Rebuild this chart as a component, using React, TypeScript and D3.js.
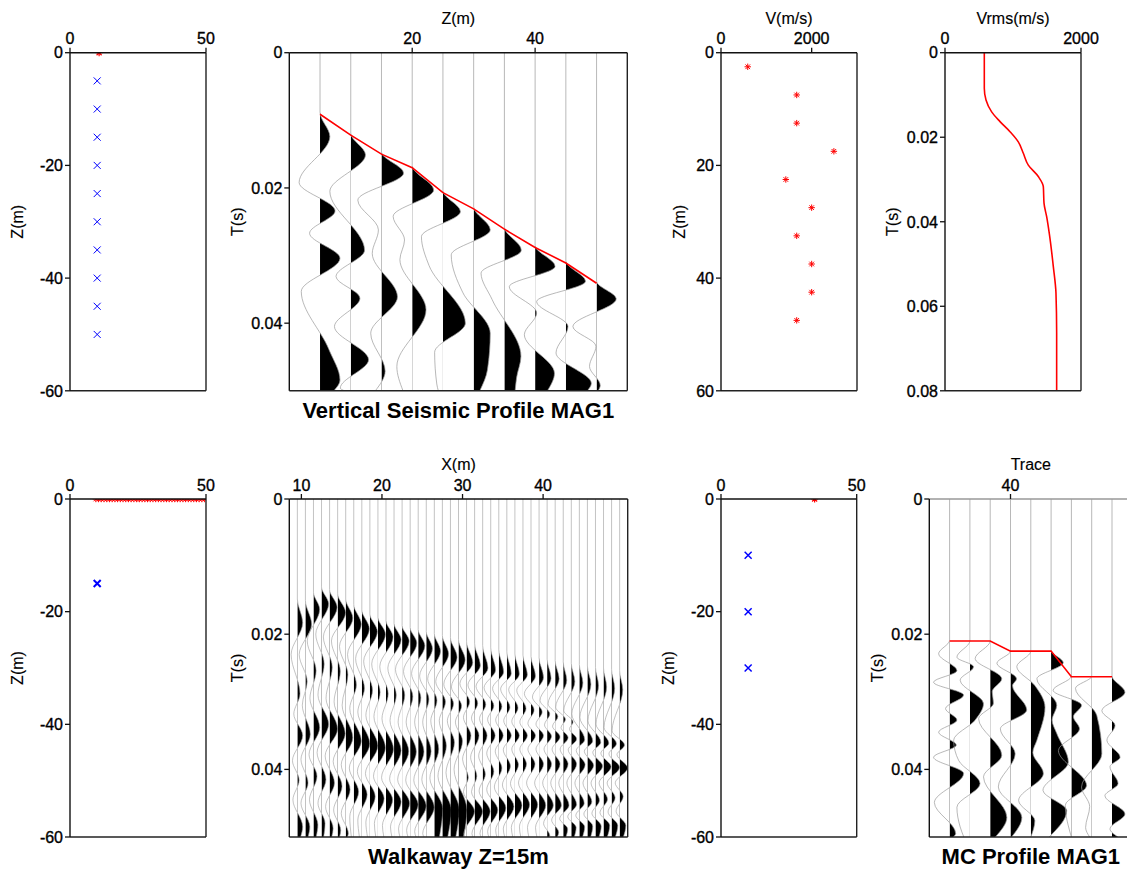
import React from "react";
import * as d3 from "d3";

type Pt = [number, number];

// ---------------- DATA ----------------
// Panel 1: VSP geometry
const vspRecvX = [10, 10, 10, 10, 10, 10, 10, 10, 10, 10];
const vspRecvZ = [-5, -10, -15, -20, -25, -30, -35, -40, -45, -50];
const vspSrc: Pt = [10.7, 0];

// Panel 2: VSP traces (depth of receiver, picks in ms, wiggle extrema [ms, amplitude in trace spacings])
const vspDepths = [5, 10, 15, 20, 25, 30, 35, 40, 45, 50];
const vspPicks = [9.1, 12.2, 15.0, 17.0, 20.7, 23.1, 26.1, 28.8, 31.1, 34.1];
const vspTraces: Pt[][] = [
  [[8.8, 0], [12.4, 0.32], [19.2, -0.68], [23.4, 0.49], [26.7, -0.34], [30.4, 0.65], [35.3, -0.61], [43.9, 0.29], [48.4, 0.65], [50, 0.45]],
  [[11.9, 0], [15.1, 0.48], [20.5, -0.68], [29.2, 0.45], [33.1, -0.48], [36.3, 0.3], [40.5, -0.53], [45.4, 0.58], [49.6, -0.34]],
  [[14.7, 0], [17.8, 0.72], [21.8, -0.77], [26.2, -0.1], [29.7, -0.3], [36.1, 0.52], [41.5, -0.35], [47.1, 0.12], [50, -0.2]],
  [[16.7, 0], [20.3, 0.7], [24.2, -0.62], [27.7, -0.25], [30.6, -0.4], [38.0, 0.45], [46.4, -0.5], [50, -0.3]],
  [[20.4, 0], [23.5, 0.57], [27.2, -0.7], [31.5, -0.45], [40.0, 0.73], [44.3, -0.27], [49, -0.2], [50, -0.15]],
  [[22.8, 0], [26.2, 0.54], [29.9, -0.73], [35.5, -0.35], [41.5, 0.54], [46.9, 0.45], [50, 0.2]],
  [[25.8, 0], [29.2, 0.55], [32.6, -0.76], [36.5, -0.4], [44.9, 0.54], [48.0, 0.4], [50, 0.35]],
  [[28.5, 0], [31.6, 0.65], [34.6, -0.84], [38.5, 0.05], [41.7, -0.35], [47.4, 0.63], [50, 0.4]],
  [[30.8, 0], [33.8, 0.64], [36.8, -0.95], [40.5, 0.07], [44.4, -0.32], [48.9, 0.83], [50, 0.7]],
  [[33.8, 0], [36.4, 0.64], [40.5, -0.77], [43.4, -0.02], [46.4, -0.23], [49.2, 0.12], [50, 0.05]],
];

// Panel 3: interval velocities
const velZ = [2.5, 7.5, 12.5, 17.5, 22.5, 27.5, 32.5, 37.5, 42.5, 47.5];
const velV = [590, 1670, 1670, 2490, 1430, 2000, 1670, 2000, 2000, 1670];

// Panel 4: Vrms(t)
const vrmsT = [0, 0.0084, 0.0112, 0.014, 0.0163, 0.0187, 0.0211, 0.0238, 0.0266, 0.0293, 0.0317, 0.0356, 0.0388, 0.0428, 0.0506, 0.0569, 0.0664, 0.08];
const vrmsV = [578, 578, 603, 686, 809, 956, 1078, 1152, 1225, 1372, 1446, 1456, 1495, 1534, 1593, 1632, 1642, 1642];

// Panel 5: walkaway geometry
const walkX = [9.5, 10.5, 11.5, 12.5, 13.5, 14.5, 15.5, 16.5, 17.5, 18.5, 19.5, 20.5, 21.5, 22.5, 23.5, 24.5, 25.5, 26.5, 27.5, 28.5, 29.5,
  30.5, 31.5, 32.5, 33.5, 34.5, 35.5, 36.5, 37.5, 38.5, 39.5, 40.5, 41.5, 42.5, 43.5, 44.5, 45.5, 46.5, 47.5, 48.5, 49.5];
const walkSrc: Pt = [10, -15];

// Panel 6: walkaway traces [ms, amplitude]
const walkTraces: Pt[][] = [
  [[14.8, 0], [18.3, 0.6], [23.0, -0.7], [28.8, 0.3], [31.8, -0.4], [35.0, 0.6], [38.7, -0.55], [41.6, 0.2], [44.5, -0.5], [48.5, 0.6]],
  [[15.0, 0], [18.5, 0.7], [23.0, -0.7], [27.0, 0.2], [30.5, -0.35], [34.8, 0.55], [38.5, -0.5], [42.0, 0.3], [45.0, -0.5], [48.5, 0.5]],
  [[13.8, 0], [16.3, 0.7], [21.0, -0.7], [25.4, 0.3], [29.5, -0.4], [33.8, 0.7], [37.8, -0.5], [41.0, 0.4], [44.5, -0.45], [48.2, 0.5]],
  [[13.0, 0], [15.5, 0.8], [20.0, -0.65], [24.4, 0.3], [29.0, -0.4], [33.3, 0.8], [37.5, -0.5], [41.5, 0.5], [45.0, -0.4], [48.0, 0.4]],
  [[13.4, 0], [16.0, 0.85], [20.4, -0.7], [24.9, 0.3], [29.5, -0.4], [34.0, 0.9], [38.0, -0.5], [42.0, 0.55], [45.5, -0.45], [48.7, 0.4]],
  [[14.0, 0], [16.8, 0.9], [21.0, -0.7], [25.5, 0.3], [30.0, -0.4], [34.7, 0.85], [38.8, -0.5], [42.5, 0.5], [46.0, -0.45], [49.0, 0.35]],
  [[14.8, 0], [17.6, 0.8], [21.8, -0.7], [26.0, 0.25], [30.5, -0.4], [35.3, 0.8], [39.3, -0.5], [43.0, 0.5], [46.5, -0.5], [49.5, 0.3]],
  [[15.6, 0], [18.5, 0.85], [23.0, -0.7], [27.5, 0.3], [31.0, -0.45], [35.8, 0.85], [39.8, -0.5], [43.3, 0.55], [47.0, -0.45]],
  [[16.4, 0], [19.2, 0.85], [23.6, -0.7], [28.0, 0.3], [31.5, -0.45], [36.2, 0.9], [40.3, -0.5], [43.7, 0.6], [47.5, -0.45]],
  [[17.0, 0], [19.6, 0.85], [24.0, -0.7], [28.3, 0.3], [32.0, -0.45], [36.5, 0.9], [40.6, -0.5], [44.0, 0.6], [47.8, -0.45]],
  [[17.5, 0], [20.0, 0.85], [24.4, -0.7], [28.6, 0.25], [32.2, -0.45], [36.8, 0.85], [41.0, -0.5], [44.3, 0.7], [48.0, -0.4]],
  [[18.0, 0], [20.4, 0.8], [24.8, -0.7], [28.8, 0.25], [32.5, -0.45], [37.0, 0.85], [41.2, -0.5], [44.5, 0.75], [48.3, -0.4]],
  [[18.4, 0], [20.8, 0.8], [25.0, -0.7], [29.0, 0.25], [32.8, -0.45], [37.2, 0.8], [41.4, -0.5], [44.8, 0.8], [48.5, -0.4]],
  [[18.7, 0], [21.0, 0.8], [25.2, -0.75], [29.0, 0.3], [33.0, -0.45], [37.3, 0.75], [41.5, -0.5], [45.0, 0.85], [48.8, -0.4]],
  [[19.0, 0], [21.3, 0.75], [25.5, -0.75], [29.2, 0.3], [33.0, -0.45], [37.4, 0.7], [41.6, -0.5], [45.2, 0.9], [49.0, -0.4]],
  [[19.3, 0], [21.7, 0.75], [25.8, -0.75], [29.4, 0.3], [33.0, -0.4], [37.4, 0.65], [41.6, -0.5], [45.4, 0.9], [49.2, -0.4]],
  [[19.6, 0], [22.1, 0.7], [26.2, -0.75], [29.6, 0.3], [33.0, -0.4], [37.3, 0.55], [41.5, -0.5], [45.6, 0.9], [49.5, -0.4]],
  [[19.9, 0], [22.5, 0.7], [26.6, -0.75], [29.8, 0.3], [32.8, -0.4], [37.0, 0.5], [41.3, -0.5], [45.8, 0.95]],
  [[20.2, 0], [22.9, 0.7], [27.0, -0.75], [30.0, 0.35], [32.8, -0.35], [36.5, 0.45], [41.0, -0.5], [46.0, 1.0]],
  [[20.5, 0], [23.4, 0.75], [27.4, -0.75], [30.3, 0.35], [32.8, -0.35], [36.0, 0.45], [40.5, -0.5], [46.0, 1.0]],
  [[20.8, 0], [23.8, 0.75], [27.8, -0.8], [30.6, 0.35], [33.0, -0.35], [35.8, 0.45], [40.0, -0.5], [46.0, 0.95]],
  [[21.1, 0], [24.2, 0.7], [27.3, -0.75], [30.0, 0.35], [32.3, -0.35], [35.0, 0.5], [38.5, -0.45], [41.2, 0.2], [43.3, -0.35], [46.2, 0.9], [49.5, -0.3]],
  [[21.4, 0], [24.6, 0.65], [27.5, -0.75], [30.2, 0.35], [32.4, -0.35], [35.0, 0.5], [38.2, -0.45], [41.0, 0.25], [43.3, -0.35], [46.2, 0.9], [49.5, -0.3]],
  [[21.7, 0], [25.0, 0.6], [27.7, -0.75], [30.4, 0.35], [32.5, -0.35], [35.0, 0.5], [38.0, -0.45], [40.7, 0.3], [43.2, -0.4], [46.2, 0.85], [49.5, -0.3]],
  [[22.0, 0], [25.3, 0.55], [27.9, -0.75], [30.6, 0.35], [32.6, -0.35], [35.0, 0.5], [37.6, -0.45], [40.3, 0.35], [43.0, -0.45], [46.0, 0.8], [49.2, -0.35]],
  [[22.3, 0], [25.6, 0.55], [28.0, -0.7], [30.7, 0.35], [32.7, -0.35], [35.0, 0.5], [37.3, -0.4], [39.8, 0.35], [42.6, -0.5], [45.7, 0.8], [49.0, -0.35]],
  [[22.6, 0], [25.8, 0.5], [28.1, -0.7], [30.8, 0.35], [32.8, -0.35], [35.0, 0.5], [37.1, -0.4], [39.5, 0.4], [42.3, -0.5], [45.5, 0.8], [48.8, -0.4]],
  [[22.9, 0], [25.9, 0.5], [28.2, -0.7], [30.9, 0.35], [32.9, -0.35], [35.0, 0.5], [37.0, -0.35], [39.3, 0.4], [42.1, -0.5], [45.3, 0.8], [48.6, -0.4]],
  [[23.1, 0], [26.0, 0.5], [28.3, -0.7], [31.0, 0.35], [33.0, -0.35], [35.0, 0.5], [37.0, -0.35], [39.2, 0.4], [42.0, -0.5], [45.2, 0.75], [48.5, -0.4]],
  [[23.3, 0], [26.2, 0.5], [28.8, -0.75], [31.2, 0.35], [33.2, -0.35], [35.0, 0.5], [37.0, -0.35], [39.2, 0.45], [42.0, -0.5], [45.2, 0.75], [48.6, -0.4]],
  [[23.5, 0], [26.4, 0.5], [29.3, -0.75], [31.5, 0.35], [33.3, -0.35], [35.0, 0.5], [37.0, -0.35], [39.2, 0.5], [42.0, -0.5], [45.3, 0.75], [48.6, -0.4]],
  [[23.7, 0], [26.5, 0.45], [29.8, -0.8], [31.8, 0.3], [33.4, -0.3], [35.1, 0.5], [37.0, -0.35], [39.2, 0.5], [42.0, -0.5], [45.3, 0.7], [48.0, -0.4], [49.8, 0.3]],
  [[23.9, 0], [26.6, 0.45], [30.3, -0.8], [32.2, 0.3], [33.6, -0.3], [35.2, 0.55], [37.0, -0.35], [39.2, 0.55], [42.0, -0.5], [45.3, 0.7], [47.5, -0.4], [49.3, 0.4]],
  [[24.1, 0], [26.8, 0.4], [30.8, -0.85], [32.6, 0.25], [33.8, -0.25], [35.3, 0.55], [37.0, -0.35], [39.2, 0.55], [42.0, -0.5], [45.3, 0.65], [47.3, -0.4], [48.8, 0.5]],
  [[24.3, 0], [27.0, 0.4], [31.3, -0.85], [33.0, 0.2], [34.0, -0.2], [35.5, 0.6], [37.1, -0.35], [39.2, 0.6], [42.0, -0.5], [45.2, 0.6], [47.0, -0.4], [48.6, 0.55]],
  [[24.5, 0], [27.2, 0.4], [31.8, -0.85], [35.6, 0.6], [37.2, -0.35], [39.3, 0.65], [42.0, -0.5], [45.0, 0.55], [46.8, -0.4], [48.5, 0.6]],
  [[24.7, 0], [27.4, 0.4], [32.3, -0.85], [35.8, 0.6], [37.3, -0.35], [39.4, 0.7], [42.0, -0.5], [44.8, 0.5], [46.6, -0.4], [48.4, 0.6]],
  [[24.9, 0], [27.6, 0.35], [32.8, -0.85], [36.0, 0.6], [37.5, -0.3], [39.5, 0.8], [42.0, -0.5], [44.6, 0.45], [46.5, -0.4], [48.4, 0.65]],
  [[25.0, 0], [27.8, 0.35], [33.3, -0.85], [36.1, 0.6], [37.6, -0.3], [39.6, 0.85], [42.0, -0.5], [44.4, 0.45], [46.4, -0.4], [48.3, 0.7]],
  [[25.2, 0], [28.0, 0.35], [33.8, -0.85], [36.2, 0.55], [37.7, -0.3], [39.7, 0.9], [42.0, -0.5], [44.2, 0.4], [46.3, -0.4], [48.3, 0.7]],
  [[25.4, 0], [28.2, 0.35], [34.3, -0.85], [36.4, 0.55], [37.8, -0.3], [39.8, 0.9], [42.0, -0.5], [44.0, 0.4], [46.2, -0.4], [48.3, 0.7]],
];

// Panel 7: MC geometry
const mcSrc: Pt = [34.5, 0];
const mcRecvX = [10, 10, 10];
const mcRecvZ = [-10, -20, -30];

// Panel 8: MC profile traces
const mcTraceNo = [37, 38, 39, 40, 41, 42, 43, 44, 45];
const mcPicks = [21.0, 21.0, 21.0, 22.5, 22.5, 22.5, 26.3, 26.3, 26.3];
const mcTraces: Pt[][] = [
  [[20.9, 0], [22.9, -0.54], [25.4, 0.36], [27.1, -0.79], [29.0, 0.69], [31.0, -0.2], [32.7, 0.36], [34.5, -0.54], [36.4, 0.33], [38.2, -0.79], [40.6, 0.69], [44.9, -0.75], [49.5, 0.3]],
  [[21.0, 0], [23.4, -0.64], [24.8, 0.18], [26.8, -0.48], [30.3, 0.67], [32.7, 0.26], [35.7, -0.8], [38.7, -0.55], [42.1, 0.5], [45.6, -0.64], [48.5, -0.48], [50, -0.3]],
  [[21.0, 0], [23.6, -0.74], [26.6, 0.57], [28.5, 0.1], [30.2, 0.16], [32.5, -0.57], [37.9, 0.57], [41.1, -0.33], [47.1, 0.82], [50, 0.25]],
  [[22.5, 0], [24.3, -0.67], [26.6, 0.3], [27.6, 0.1], [31.2, 0.8], [34.0, -0.5], [37.7, 0.23], [42.6, -0.6], [47.1, 0.56], [50, 0.05]],
  [[22.5, 0], [24.8, -0.69], [27.6, 0.2], [30.8, 0.7], [35.7, 0.3], [37.5, 0.1], [40.6, 0.62], [44.6, -0.6], [47.6, 0.2], [50, 0]],
  [[22.4, 0], [24.2, 0.6], [26.6, -0.7], [30.5, 0.28], [32.7, 0.05], [34.7, 0.28], [38.9, 0.85], [43.1, -0.4], [46.1, 0.77], [50, -0.1]],
  [[26.2, 0], [28.3, -0.9], [30.5, 0.5], [32.2, 0.1], [34.0, 0.4], [37.2, -0.64], [42.4, 0.75], [45.3, -0.3], [50, 0]],
  [[26.2, 0], [28.0, -0.8], [32.0, 0.25], [37.7, 0.5], [42.6, -0.5], [45.5, -0.1], [48.6, -0.3], [50, -0.1]],
  [[26.2, 0], [28.6, 0.64], [31.3, -0.5], [33.5, 0.15], [35.7, -0.25], [38.2, 0.4], [39.6, -0.1], [42.1, 0.3], [43.9, -0.35], [46.6, 0.64], [48.8, -0.1], [50, 0.3]],
];

// Tick values / labels
const depthTicksNeg = [0, -20, -40, -60];
const depthTicksPos = [0, 20, 40, 60];
const offsetTicks = [0, 50];
const vspZTicks = [20, 40];
const timeTicks05 = [0, 0.02, 0.04];
const timeTicks08 = [0, 0.02, 0.04, 0.06, 0.08];
const velTicks = [0, 2000];
const walkXTicks = [10, 20, 30, 40];
const mcTicks = [40];

// ---------------- DRAWING ----------------
const FONT = "'Liberation Sans', Arial, Helvetica, sans-serif";
const W = 1127, H = 870;
const TOP1 = 52.7, BOT1 = 390.8;
const TOP2 = 499, BOT2 = 837;

type Box = { l: number; r: number; t: number; b: number };

const fmtT = (v: number) => (v === 0 ? "0" : String(+v.toFixed(2)));
const TXT = { fontSize: 16, fontFamily: FONT, fill: "#000", stroke: "#000", strokeWidth: 0.35 };

function Frame(props: {
  box: Box; xs: any; ys: any; xTicks: number[]; yTicks: number[]; yFmt?: (v: number) => string;
  xTitle?: string; yTitle: string; yTitleX: number; title?: string; id: string; children?: any; topColor?: string;
}) {
  const { box, xs, ys, xTicks, yTicks, yFmt, xTitle, yTitle, yTitleX, title, id, children, topColor } = props;
  const f = yFmt || ((v: number) => String(v));
  const cy = (box.t + box.b) / 2;
  return (
    <g>
      <clipPath id={id}>
        <rect x={box.l} y={box.t} width={box.r - box.l} height={box.b - box.t} />
      </clipPath>
      <g clipPath={`url(#${id})`}>{children}</g>
      <line x1={box.l} x2={box.r} y1={box.b} y2={box.b} stroke="#222" strokeWidth={1.4} />
      <line x1={box.r} x2={box.r} y1={box.t} y2={box.b} stroke="#222" strokeWidth={1.4} />
      <line x1={box.l} x2={box.r} y1={box.t} y2={box.t} stroke={topColor || "#111"} strokeWidth={1.4} />
      <line x1={box.l} x2={box.l} y1={box.t} y2={box.b} stroke="#111" strokeWidth={1.4} />
      {xTicks.map((v) => (
        <g key={"x" + v}>
          <line x1={xs(v)} x2={xs(v)} y1={box.t} y2={box.t - 5} stroke="#111" strokeWidth={1.3} />
          <text x={xs(v)} y={box.t - 8.5} textAnchor="middle" {...TXT}>{String(v)}</text>
        </g>
      ))}
      {yTicks.map((v) => (
        <g key={"y" + v}>
          <line x1={box.l - 5} x2={box.l} y1={ys(v)} y2={ys(v)} stroke="#111" strokeWidth={1.3} />
          <text x={box.l - 7} y={ys(v)} dy="0.36em" textAnchor="end" {...TXT}>{f(v)}</text>
        </g>
      ))}
      {xTitle && (
        <text x={(box.l + box.r) / 2} y={box.t - 29} textAnchor="middle" {...TXT} strokeWidth={0.15}>{xTitle}</text>
      )}
      <text transform={`translate(${yTitleX},${cy}) rotate(-90)`} textAnchor="middle" {...TXT} strokeWidth={0.15}>{yTitle}</text>
      {title && (
        <text x={(box.l + box.r) / 2} y={box.b + 27} textAnchor="middle" fontSize={22} fontWeight="bold" fontFamily={FONT}>{title}</text>
      )}
    </g>
  );
}

const crossPath = (s: number) => `M${-s},${-s}L${s},${s}M${-s},${s}L${s},${-s}`;
const starPath = (s: number) => {
  const d = s * 0.72;
  return `M0,${-s}V${s}M${-s},0H${s}M${-d},${-d}L${d},${d}M${-d},${d}L${d},${-d}`;
};

function Wiggles(props: { traces: Pt[][]; positions: number[]; spacing: number; xs: any; ys: any; box: Box; id: string; lineW: number; lineColor: string }) {
  const { traces, positions, spacing, xs, ys, box, id, lineW, lineColor } = props;
  const tMax = ys.domain()[1] * 1000;
  return (
    <g>
      {traces.map((tr, i) => {
        const pos = positions[i];
        const pts: Pt[] = [[0, 0], ...tr];
        const last = pts[pts.length - 1];
        if (last[0] < tMax) pts.push([tMax, last[1] * 0.6]);
        const bx = xs(pos);
        const xOf = (d: Pt) => xs(pos + d[1] * spacing);
        const yOf = (d: Pt) => ys(d[0] / 1000);
        const line = d3.line<Pt>().x(xOf).y(yOf).curve(d3.curveMonotoneY);
        const area = d3.area<Pt>().y(yOf).x0(bx).x1(xOf).curve(d3.curveMonotoneY);
        const cid = `${id}-${i}`;
        return (
          <g key={i}>
            <clipPath id={cid}>
              <rect x={bx} y={box.t} width={200} height={box.b - box.t} />
            </clipPath>
            <path d={area(pts) || ""} fill="#000" clipPath={`url(#${cid})`} />
            <path d={line(pts) || ""} fill="none" stroke={lineColor} strokeWidth={lineW} />
          </g>
        );
      })}
    </g>
  );
}

export default function App() {
  const b1: Box = { l: 70, r: 206, t: TOP1, b: BOT1 };
  const b2: Box = { l: 289.3, r: 627.3, t: TOP1, b: BOT1 };
  const b3: Box = { l: 721, r: 857, t: TOP1, b: BOT1 };
  const b4: Box = { l: 945, r: 1081, t: TOP1, b: BOT1 };
  const b5: Box = { l: 70, r: 206, t: TOP2, b: BOT2 };
  const b6: Box = { l: 289.3, r: 627.7, t: TOP2, b: BOT2 };
  const b7: Box = { l: 721, r: 856.7, t: TOP2, b: BOT2 };
  const b8: Box = { l: 929.3, r: 1132.3, t: TOP2, b: BOT2 };

  const x1 = d3.scaleLinear().domain([0, 50]).range([b1.l, b1.r]);
  const y1 = d3.scaleLinear().domain([0, -60]).range([b1.t, b1.b]);
  const x2 = d3.scaleLinear().domain([0, 55]).range([b2.l, b2.r]);
  const y2 = d3.scaleLinear().domain([0, 0.05]).range([b2.t, b2.b]);
  const x3 = d3.scaleLinear().domain([0, 3000]).range([b3.l, b3.r]);
  const y3 = d3.scaleLinear().domain([0, 60]).range([b3.t, b3.b]);
  const x4 = d3.scaleLinear().domain([0, 2000]).range([b4.l, b4.r]);
  const y4 = d3.scaleLinear().domain([0, 0.08]).range([b4.t, b4.b]);
  const x5 = d3.scaleLinear().domain([0, 50]).range([b5.l, b5.r]);
  const y5 = d3.scaleLinear().domain([0, -60]).range([b5.t, b5.b]);
  const x6 = d3.scaleLinear().domain([8.5, 50.5]).range([b6.l, b6.r]);
  const y6 = d3.scaleLinear().domain([0, 0.05]).range([b6.t, b6.b]);
  const x7 = d3.scaleLinear().domain([0, 50]).range([b7.l, b7.r]);
  const y7 = d3.scaleLinear().domain([0, -60]).range([b7.t, b7.b]);
  const x8 = d3.scaleLinear().domain([36, 46]).range([b8.l, b8.r]);
  const y8 = d3.scaleLinear().domain([0, 0.05]).range([b8.t, b8.b]);

  const vspPickPath = d3
    .line<number>()
    .x((_, i) => x2(vspDepths[i]))
    .y((d) => y2(d / 1000))(vspPicks);
  const mcPickPath = d3
    .line<number>()
    .x((_, i) => x8(mcTraceNo[i]))
    .y((d) => y8(d / 1000))(mcPicks);
  const vrmsPath = d3
    .line<number>()
    .x((d) => x4(d))
    .y((_, i) => y4(vrmsT[i]))
    .curve(d3.curveMonotoneY)(vrmsV);

  return (
    <svg width={W} height={H} style={{ position: "absolute", left: 0, top: 0, background: "#fff" }} fontFamily={FONT}>
      <rect x={0} y={0} width={W} height={H} fill="#fff" />

      {/* Panel 1 */}
      <Frame box={b1} xs={x1} ys={y1} xTicks={offsetTicks} yTicks={depthTicksNeg} yTitle="Z(m)" yTitleX={23} id="c1">
        {vspRecvZ.map((z, i) => (
          <path key={i} d={crossPath(3.5)} transform={`translate(${x1(vspRecvX[i])},${y1(z)})`} stroke="#0000ff" strokeWidth={1} fill="none" />
        ))}
        <path d={starPath(3.5)} transform={`translate(${x1(vspSrc[0])},${y1(vspSrc[1])})`} stroke="#ff0000" strokeWidth={1.2} fill="none" />
      </Frame>

      {/* Panel 2 */}
      <Frame box={b2} xs={x2} ys={y2} xTicks={vspZTicks} yTicks={timeTicks05} yFmt={fmtT} xTitle="Z(m)" yTitle="T(s)" yTitleX={243} title="Vertical Seismic Profile MAG1" id="c2">
        <Wiggles traces={vspTraces} positions={vspDepths} spacing={5} xs={x2} ys={y2} box={b2} id="w2" lineW={0.7} lineColor="#9a9a9a" />
        <path d={vspPickPath || ""} fill="none" stroke="#ff0000" strokeWidth={1.6} />
      </Frame>

      {/* Panel 3 */}
      <Frame box={b3} xs={x3} ys={y3} xTicks={velTicks} yTicks={depthTicksPos} xTitle="V(m/s)" yTitle="Z(m)" yTitleX={684.7} id="c3">
        {velZ.map((z, i) => (
          <path key={i} d={starPath(3.2)} transform={`translate(${x3(velV[i])},${y3(z)})`} stroke="#ff0000" strokeWidth={1} fill="none" />
        ))}
      </Frame>

      {/* Panel 4 */}
      <Frame box={b4} xs={x4} ys={y4} xTicks={velTicks} yTicks={timeTicks08} yFmt={fmtT} xTitle="Vrms(m/s)" yTitle="T(s)" yTitleX={898} id="c4">
        <path d={vrmsPath || ""} fill="none" stroke="#ff0000" strokeWidth={1.6} />
      </Frame>

      {/* Panel 5 */}
      <Frame box={b5} xs={x5} ys={y5} xTicks={offsetTicks} yTicks={depthTicksNeg} yTitle="Z(m)" yTitleX={23} id="c5">
        {walkX.map((x, i) => (
          <path key={i} d={starPath(3.2)} transform={`translate(${x5(x)},${y5(0)})`} stroke="#ff0000" strokeWidth={1} fill="none" />
        ))}
        <path d={crossPath(3.5)} transform={`translate(${x5(walkSrc[0])},${y5(walkSrc[1])})`} stroke="#0000ff" strokeWidth={2} fill="none" />
      </Frame>

      {/* Panel 6 */}
      <Frame box={b6} xs={x6} ys={y6} xTicks={walkXTicks} yTicks={timeTicks05} yFmt={fmtT} xTitle="X(m)" yTitle="T(s)" yTitleX={243} title="Walkaway Z=15m" id="c6">
        <Wiggles traces={walkTraces} positions={walkX} spacing={1.1} xs={x6} ys={y6} box={b6} id="w6" lineW={0.6} lineColor="#9a9a9a" />
      </Frame>

      {/* Panel 7 */}
      <Frame box={b7} xs={x7} ys={y7} xTicks={offsetTicks} yTicks={depthTicksNeg} yTitle="Z(m)" yTitleX={674} id="c7">
        {mcRecvZ.map((z, i) => (
          <path key={i} d={crossPath(3.5)} transform={`translate(${x7(mcRecvX[i])},${y7(z)})`} stroke="#0000ff" strokeWidth={1.5} fill="none" />
        ))}
        <path d={starPath(3.5)} transform={`translate(${x7(mcSrc[0])},${y7(mcSrc[1])})`} stroke="#ff0000" strokeWidth={1.2} fill="none" />
      </Frame>

      {/* Panel 8 */}
      <Frame box={b8} xs={x8} ys={y8} xTicks={mcTicks} yTicks={timeTicks05} yFmt={fmtT} xTitle="Trace" yTitle="T(s)" yTitleX={883} title="MC Profile MAG1" id="c8" topColor="#999">
        <Wiggles traces={mcTraces} positions={mcTraceNo} spacing={1} xs={x8} ys={y8} box={b8} id="w8" lineW={0.7} lineColor="#9a9a9a" />
        <path d={mcPickPath || ""} fill="none" stroke="#ff0000" strokeWidth={1.6} />
      </Frame>
    </svg>
  );
}
